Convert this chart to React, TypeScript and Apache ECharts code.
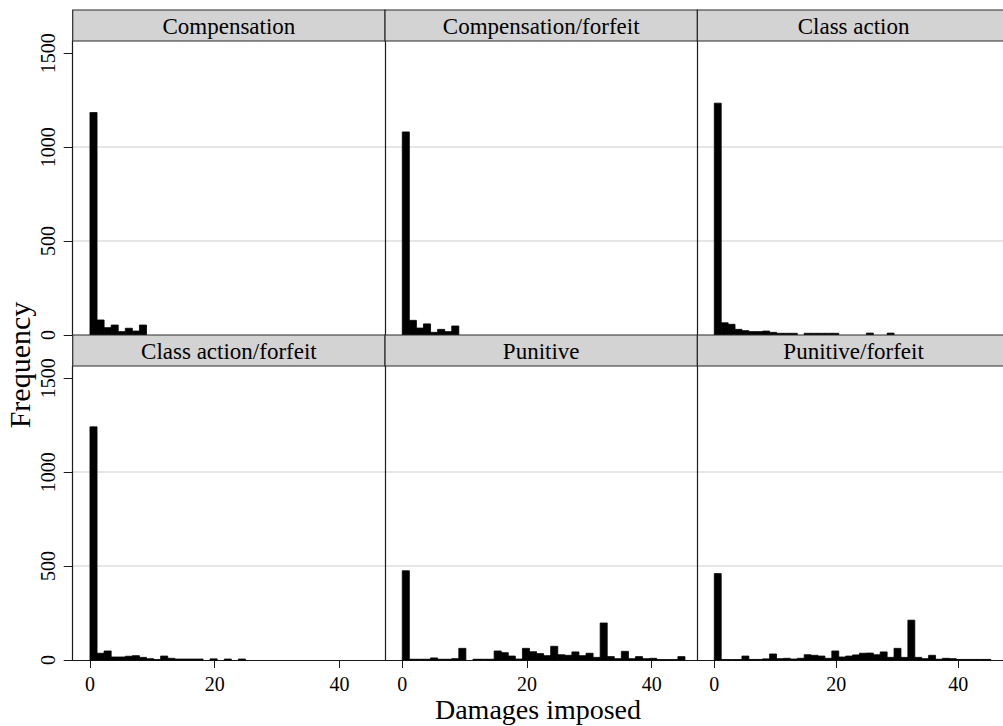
import React, { useEffect, useRef } from "react";
import * as echarts from "echarts";

// ---- data (40 bins of equal width starting at 0) ----
const BIN_WIDTH = 1.1334;
const panelTitles = [
  "Compensation",
  "Compensation/forfeit",
  "Class action",
  "Class action/forfeit",
  "Punitive",
  "Punitive/forfeit",
];
const compensation = [1184, 80, 39, 53, 18, 36, 21, 53, 0, 0, 0, 0, 0, 0, 0, 0, 0, 0, 0, 0, 0, 0, 0, 0, 0, 0, 0, 0, 0, 0, 0, 0, 0, 0, 0, 0, 0, 0, 0, 0];
const compensationForfeit = [1081, 78, 37, 59, 14, 30, 18, 48, 0, 0, 0, 0, 0, 0, 0, 0, 0, 0, 0, 0, 0, 0, 0, 0, 0, 0, 0, 0, 0, 0, 0, 0, 0, 0, 0, 0, 0, 0, 0, 0];
const classAction = [1234, 65, 57, 30, 23, 18, 18, 21, 14, 9, 9, 9, 0, 9, 9, 9, 9, 9, 0, 0, 0, 0, 10, 0, 0, 10, 0, 0, 0, 0, 0, 0, 0, 0, 0, 0, 0, 0, 0, 0];
const classActionForfeit = [1241, 36, 48, 16, 16, 20, 23, 14, 7, 2, 21, 9, 5, 5, 5, 5, 0, 6, 0, 5, 0, 5, 0, 0, 0, 0, 0, 0, 0, 0, 0, 0, 0, 0, 0, 0, 0, 0, 0, 0];
const punitive = [475, 4, 4, 4, 11, 4, 4, 7, 62, 0, 4, 4, 4, 48, 39, 21, 5, 62, 44, 34, 23, 73, 28, 25, 43, 23, 36, 14, 197, 18, 7, 46, 7, 18, 7, 9, 2, 2, 2, 18];
const punitiveForfeit = [460, 2, 2, 2, 21, 3, 3, 6, 32, 7, 9, 5, 9, 28, 25, 21, 9, 48, 16, 21, 27, 36, 37, 28, 43, 14, 62, 14, 212, 14, 7, 25, 4, 9, 7, 3, 3, 3, 3, 3];
const panelCounts = [compensation, compensationForfeit, classAction, classActionForfeit, punitive, punitiveForfeit];
const yTicks = [0, 500, 1000, 1500];
const xTicks = [0, 20, 40];
const xTitle = "Damages imposed";
const yTitle = "Frequency";

// ---- layout ----
const X_MIN = -2.77;
const X_MAX = 47.33;
const Y_MAX = 1565;
const COL_LEFT = [72.7, 385, 697.4];
const PANEL_W = 312.4;
const ROW_TOP = [41, 366];
const PANEL_H = 294;
const HEADER_H = 31;
const FONT = "Liberation Serif, DejaVu Serif, serif";

export default function App() {
  const ref = useRef<HTMLDivElement>(null);

  useEffect(() => {
    if (!ref.current) return;
    const chart = echarts.init(ref.current, undefined, { renderer: "svg" });

    const grids: any[] = [];
    const xAxes: any[] = [];
    const yAxes: any[] = [];
    const series: any[] = [];
    const graphics: any[] = [];

    panelCounts.forEach((counts, idx) => {
      const row = Math.floor(idx / 3);
      const col = idx % 3;
      const left = COL_LEFT[col];
      const top = ROW_TOP[row];
      grids.push({ left, top, width: PANEL_W, height: PANEL_H, containLabel: false });
      const bottomRow = row === 1;
      const leftCol = col === 0;
      xAxes.push({
        gridIndex: idx,
        type: "value",
        min: X_MIN,
        max: X_MAX,
        axisLine: { show: true, onZero: false, lineStyle: { color: "#1a1a1a", width: 1.2 } },
        axisTick: { show: bottomRow, length: 8, customValues: xTicks, lineStyle: { color: "#1a1a1a" } },
        axisLabel: {
          show: bottomRow,
          customValues: xTicks,
          margin: 14,
          fontFamily: FONT,
          fontSize: 20,
          color: "#000",
        },
        splitLine: { show: false },
      });
      yAxes.push({
        gridIndex: idx,
        type: "value",
        min: 0,
        max: Y_MAX,
        interval: 500,
        axisLine: { show: true, onZero: false, lineStyle: { color: "#1a1a1a", width: 1.2 } },
        axisTick: { show: leftCol, length: 9, customValues: yTicks, lineStyle: { color: "#1a1a1a" } },
        axisLabel: {
          show: leftCol,
          customValues: yTicks,
          rotate: 90,
          margin: 15,
          fontFamily: FONT,
          fontSize: 20,
          color: "#000",
          formatter: (v: number) => (v % 500 === 0 ? String(v) : ""),
        },
        splitLine: {
          show: true,
          showMinLine: false,
          showMaxLine: false,
          lineStyle: { color: "#dedede", width: 1.5 },
        },
      });
      series.push({
        type: "custom",
        xAxisIndex: idx,
        yAxisIndex: idx,
        data: counts.map((c, i) => [i * BIN_WIDTH, (i + 1) * BIN_WIDTH, c]),
        encode: { x: [0, 1], y: 2 },
        renderItem: (params: any, api: any) => {
          const v = api.value(2);
          if (!v) return null;
          const p0 = api.coord([api.value(0), v]);
          const p1 = api.coord([api.value(1), 0]);
          return {
            type: "rect",
            shape: { x: p0[0], y: p0[1], width: p1[0] - p0[0], height: p1[1] - p0[1] },
            style: { fill: "#000", stroke: "#000", lineWidth: 0.8 },
          };
        },
      });
      graphics.push({
        type: "rect",
        z: 100,
        shape: { x: left, y: top - HEADER_H, width: PANEL_W, height: HEADER_H },
        style: { fill: "#d3d3d3", stroke: "#2a2a2a", lineWidth: 1.2 },
      });
      graphics.push({
        type: "text",
        z: 101,
        x: left + PANEL_W / 2,
        y: top - HEADER_H / 2 + 1,
        style: {
          text: panelTitles[idx],
          fontFamily: FONT,
          fontSize: 23,
          fill: "#000",
          textAlign: "center",
          textVerticalAlign: "middle",
        },
      });
    });

    graphics.push({
      type: "text",
      z: 101,
      x: 19,
      y: 365,
      rotation: Math.PI / 2,
      style: {
        text: yTitle,
        fontFamily: FONT,
        fontSize: 30,
        fill: "#000",
        textAlign: "center",
        textVerticalAlign: "middle",
      },
    });
    graphics.push({
      type: "text",
      z: 101,
      x: 538,
      y: 709,
      style: {
        text: xTitle,
        fontFamily: FONT,
        fontSize: 28,
        fill: "#000",
        textAlign: "center",
        textVerticalAlign: "middle",
      },
    });

    chart.setOption({
      animation: false,
      backgroundColor: "#fff",
      textStyle: { fontFamily: FONT },
      grid: grids,
      xAxis: xAxes,
      yAxis: yAxes,
      series,
      graphic: graphics,
    });
    return () => chart.dispose();
  }, []);

  return (
    <div
      ref={ref}
      style={{ position: "absolute", left: 0, top: 0, width: 1003, height: 726, background: "#fff" }}
    />
  );
}
